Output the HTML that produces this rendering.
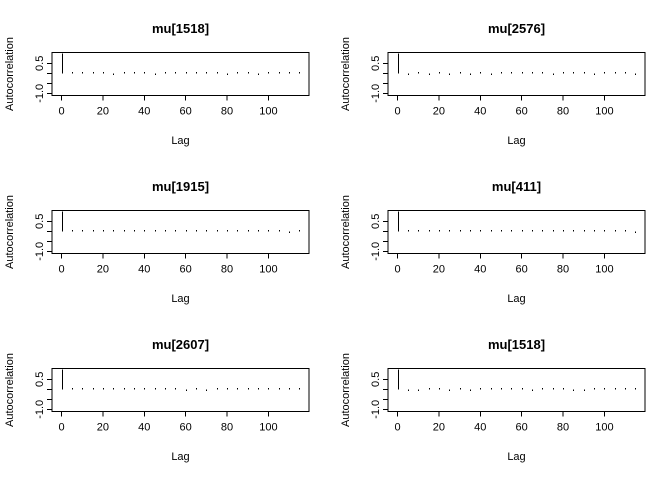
<!DOCTYPE html>
<html><head><meta charset="utf-8"><style>
body{margin:0;background:#fff}
svg{display:block;font-family:"Liberation Sans",Arial,sans-serif}
</style></head><body>
<svg id="c" width="672" height="480"></svg>
<script>
const titles=["mu[1518]","mu[2576]","mu[1915]","mu[411]","mu[2607]","mu[1518]"];
const lags=[0,5,10,15,20,25,30,35,40,45,50,55,60,65,70,75,80,85,90,95,100,105,110,115];
const acf1=[1,0.02,0.01,0.01,0.01,-0.04,0.03,0.01,0.01,-0.02,0.01,0.02,0.01,0.03,0.01,0.01,-0.02,0.01,0.01,-0.02,0.01,0.01,0.01,0.01];
const acf2=[1,-0.02,0.01,-0.02,0.03,-0.02,0.01,-0.02,0.01,-0.02,0.01,0.01,0.01,0.01,0.01,-0.02,0.01,0.01,0.01,-0.02,0.01,0.03,0.01,-0.02];
const acf3=[1,0.01,0.01,0.01,0.02,0.03,0.01,0.02,0.01,0.02,0.01,0.03,0.02,0.01,0.02,0.01,0.01,0.02,0.01,0.03,0.02,0.01,-0.03,0.01];
const acf4=[1,0.01,0.01,0.01,0.01,0.01,0.01,0.01,0.01,0.01,0.01,0.01,0.02,0.01,0.03,0.01,0.01,0.01,0.01,0.01,0.01,0.02,0.01,-0.02];
const acf5=[1,0.02,0.01,0.01,0.01,0.01,0.03,0.01,0.01,0.01,0.01,0.03,-0.03,0.03,-0.03,0.01,0.01,0.01,0.01,0.01,0.01,0.01,0.01,0.01];
const acf6=[1,-0.03,-0.05,0.02,0.03,-0.02,0.01,-0.02,0.01,0.01,0.01,0.01,0.01,-0.03,0.03,0.01,0.01,-0.02,-0.02,0.01,0.01,0.03,0.01,0.01];
const series=[acf1,acf2,acf3,acf4,acf5,acf6];
const yTicks=[-1,-0.5,0,0.5];
const yLabels=["-1.0","","","0.5"];
const xTicks=[0,20,40,60,80,100];
const NS="http://www.w3.org/2000/svg";
const svg=document.getElementById("c");
function mk(t,a,p){const e=document.createElementNS(NS,t);for(const k in a)e.setAttribute(k,a[k]);(p||svg).appendChild(e);return e;}
for(let i=0;i<6;i++){
  const ox=(i%2)*336, oy=Math.floor(i/2)*158;
  const L=ox+52,R=ox+309,T=oy+52.3,B=oy+95.7;
  const xs=v=>L+(v+4.6)/(124.2)*(R-L);
  const ys=v=>T+(1.05-v)/2.17*(B-T);
  const g=mk("g",{"shape-rendering":"crispEdges"});
  
  
  const t=mk("text",{x:(L+R)/2,y:oy+33,"text-anchor":"middle","font-size":"13","font-weight":"bold"},g);t.textContent=titles[i];
  
  
  const box=mk("rect",{x:L,y:T,width:R-L,height:B-T,fill:"none",stroke:"#000","stroke-width":1},g);
  
  
  yTicks.forEach((v,j)=>{const y=ys(v);mk("line",{x1:L-5,x2:L,y1:y,y2:y,stroke:"#000"},g);
    if(yLabels[j]){const tx=mk("text",{x:0,y:0,transform:`translate(${L-9},${y}) rotate(-90)`,"text-anchor":"middle","font-size":"11"},g);tx.textContent=yLabels[j];
    
    }});
  xTicks.forEach(v=>{const x=xs(v);mk("line",{x1:x,x2:x,y1:B,y2:B+5,stroke:"#000"},g);
    const tx=mk("text",{x:x,y:B+19,"text-anchor":"middle","font-size":"11"},g);tx.textContent=v;
    
    });
  const yl=mk("text",{x:0,y:0,transform:`translate(${ox+13},${(T+B)/2}) rotate(-90)`,"text-anchor":"middle","font-size":"11"},g);yl.textContent="Autocorrelation";
  
  
  const xl=mk("text",{x:(L+R)/2,y:oy+144,"text-anchor":"middle","font-size":"11"},g);xl.textContent="Lag";
  
  
  series[i].forEach((v,k)=>{const x=Math.round(xs(lags[k]))+0.5;let y0=ys(0),y1=ys(v);
    if(Math.abs(y1-y0)<1.5)y1=y0+(v<0?1.5:-1.5);
    const b=mk("line",{x1:x,x2:x,y1:y0,y2:y1,stroke:"#000","stroke-width":1},g);
    
    });
}
</script>
</body></html>
